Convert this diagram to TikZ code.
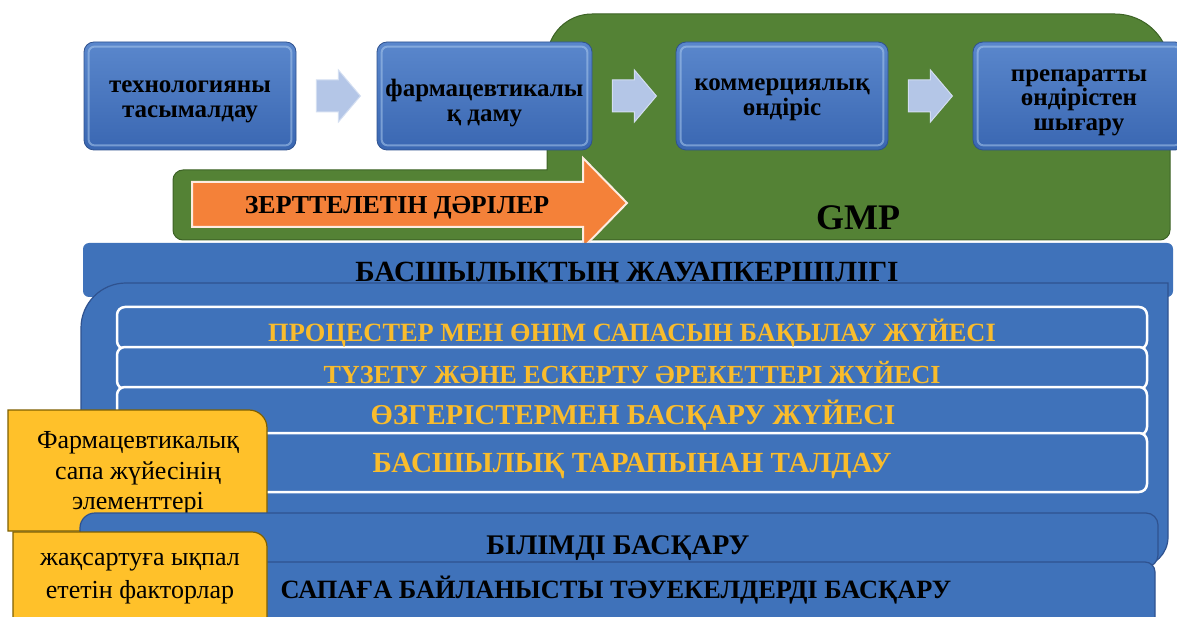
\documentclass[tikz,border=0pt]{standalone}
\usepackage{fontspec}
\setmainfont{Liberation Serif}
\usetikzlibrary{calc}
\definecolor{flatblue}{HTML}{3F72BA}
\definecolor{tbtop}{HTML}{5A87CC}
\definecolor{tbbot}{HTML}{3A67B2}
\definecolor{bdark}{HTML}{2F528F}
\definecolor{hilite}{HTML}{A9C8EC}
\definecolor{mgreen}{HTML}{548235}
\definecolor{dgreen}{HTML}{3D6326}
\definecolor{morange}{HTML}{F48139}
\definecolor{myellow}{HTML}{FFC12A}
\definecolor{ydark}{HTML}{7F6000}
\definecolor{goldtxt}{HTML}{F9BC2C}
\definecolor{larrow}{HTML}{B4C6E7}
\definecolor{larrowb}{HTML}{D3DEF1}
\begin{document}
\begin{tikzpicture}[x=1pt,y=1pt,
  topbox/.style={draw=bdark, line width=0.8pt, rounded corners=10pt,
    top color=tbtop, bottom color=tbbot, minimum width=212pt,
    minimum height=108pt, inner sep=0pt},
  toptext/.style={align=center, inner sep=0pt,
    font=\fontsize{25}{24.5}\selectfont\bfseries, text=black},
  hl/.style={draw=hilite, line width=2pt, rounded corners=6pt, opacity=0.55},
  blockarrow/.style={fill=larrow, draw=larrowb, line width=1pt},
  rowbox/.style={draw=white, line width=2.5pt, fill=flatblue, rounded corners=8pt,
    minimum width=1030pt, inner sep=0pt},
  goldlabel/.style={text=goldtxt, font=\fontsize{#1}{#1}\selectfont\bfseries,
    inner sep=0pt, anchor=base},
  blacklabel/.style={text=black, font=\fontsize{#1}{#1}\selectfont\bfseries,
    inner sep=0pt, anchor=base},
  ylabel/.style={text=black, align=center, font=\fontsize{26}{#1}\selectfont, inner sep=0pt},
]
\useasboundingbox (0,0) rectangle (1177,-617);

% green GMP region
\path[fill=mgreen, draw=dgreen, line width=1pt]
  (547,-59) arc[start angle=180, end angle=90, radius=45pt]
  -- (1115,-14) arc[start angle=90, end angle=0, radius=55pt]
  -- (1170,-230) arc[start angle=0, end angle=-90, radius=10pt]
  -- (183,-240) arc[start angle=270, end angle=180, radius=10pt]
  -- (173,-180) arc[start angle=180, end angle=90, radius=10pt]
  -- (547,-170) -- cycle;
\node[blacklabel=36] (gmp) at (858,-230) {GMP};

% top boxes
\node[topbox] (b1) at (190,-96) {};
\node[topbox, minimum width=215pt] (b2) at (484.5,-96) {};
\node[topbox] (b3) at (782,-96) {};
\node[topbox] (b4) at (1079,-96) {};
\foreach \b in {b1,b2,b3,b4}{
  \draw[hl] ($(\b.south west)+(5,5)$) rectangle ($(\b.north east)+(-5,-5)$);
}
\node[toptext] (b1t) at ($(b1.center)+(0,-6)$) {технологияны\\тасымалдау};
\node[toptext] (b2t) at ($(b2.center)+(0,-7)$) {фармацевтикалы\\қ даму};
\node[toptext] (b3t) at ($(b3.center)+(0,-4)$) {коммерциялық\\өндіріс};
\node[toptext] (b4t) at ($(b4.center)+(0,-6.5)$) {препаратты\\өндірістен\\шығару};

% block arrows between the boxes
\foreach \a/\b in {b1/b2,b2/b3,b3/b4}{
  \path[blockarrow]
    ($(\a.east)+(20,16)$) -- ($(\a.east)+(42,16)$) -- ($(\a.east)+(42,26)$)
    -- ($(\a.east)+(64,0)$) -- ($(\a.east)+(42,-26)$) -- ($(\a.east)+(42,-16)$)
    -- ($(\a.east)+(20,-16)$) -- cycle;
}

% orange arrow
\path[fill=morange, draw=white!85!morange, line width=2pt]
  (192,-182) -- (583,-182) -- (583,-158) -- (627,-203) -- (583,-248)
  -- (583,-227) -- (192,-227) -- cycle;
\node[blacklabel=25.9] (zd) at (397,-213.5) {ЗЕРТТЕЛЕТІН ДӘРІЛЕР};

% leadership band
\node[fill=flatblue, rounded corners=6pt, minimum width=1090pt, minimum height=54pt,
  inner sep=0pt] (lead) at (628,-270) {};
\node[blacklabel=29.3] (leadt) at (627,-281.7) {БАСШЫЛЫҚТЫҢ ЖАУАПКЕРШІЛІГІ};

% big container
\path[fill=flatblue, draw=bdark, line width=1.2pt]
  (81,-570) -- (81,-328) arc[start angle=180, end angle=90, radius=45pt]
  -- (1168,-283) -- (1168,-537) arc[start angle=0, end angle=-90, radius=30pt]
  -- cycle;

% rows
\node[rowbox, minimum height=42pt] (r1) at (632,-328) {};
\node[rowbox, minimum height=42pt] (r2) at (632,-368) {};
\node[rowbox, minimum height=48pt] (r3) at (632,-411) {};
\node[rowbox, minimum height=59pt] (r4) at (632,-462.5) {};
\node[goldlabel=26.4] (t1) at (632,-341.7) {ПРОЦЕСТЕР МЕН ӨНІМ САПАСЫН БАҚЫЛАУ ЖҮЙЕСІ};
\node[goldlabel=26.1] (t2) at (632,-383.6) {ТҮЗЕТУ ЖӘНЕ ЕСКЕРТУ ӘРЕКЕТТЕРІ ЖҮЙЕСІ};
\node[goldlabel=28.8] (t3) at (633,-424.5) {ӨЗГЕРІСТЕРМЕН БАСҚАРУ ЖҮЙЕСІ};
\node[goldlabel=29.2] (t4) at (632,-472.6) {БАСШЫЛЫҚ ТАРАПЫНАН ТАЛДАУ};

% yellow box 1
\path[fill=myellow, draw=ydark, line width=1.2pt]
  (8,-531) -- (8,-410) -- (249,-410) arc[start angle=90, end angle=0, radius=18pt]
  -- (267,-531) -- cycle;
\node[ylabel=30.5] (y1) at (138,-473.5) {Фармацевтикалық\\сапа жүйесінің\\элементтері};

% knowledge band
\path[fill=flatblue, draw=bdark, line width=1.2pt]
  (80,-580) -- (80,-528) arc[start angle=180, end angle=90, radius=15pt]
  -- (1146,-513) arc[start angle=90, end angle=0, radius=12pt]
  -- (1158,-555) arc[start angle=0, end angle=-90, radius=12pt] -- cycle;
\node[blacklabel=28.4] (kt) at (618,-554.4) {БІЛІМДІ БАСҚАРУ};

% risk band
\path[fill=flatblue, draw=bdark, line width=1.2pt]
  (80,-630) -- (80,-572) arc[start angle=180, end angle=90, radius=10pt]
  -- (1145,-562) arc[start angle=90, end angle=0, radius=10pt]
  -- (1155,-630) -- cycle;
\node[blacklabel=26.4] (rt) at (616,-598.7) {САПАҒА БАЙЛАНЫСТЫ ТӘУЕКЕЛДЕРДІ БАСҚАРУ};

% yellow box 2
\path[fill=myellow, draw=ydark, line width=1.2pt]
  (13,-630) -- (13,-532) -- (252,-532) arc[start angle=90, end angle=0, radius=15pt]
  -- (267,-630) -- cycle;
\node[ylabel=33] (y2) at (140,-579) {жақсартуға ықпал\\ететін факторлар};
\end{tikzpicture}
\end{document}
